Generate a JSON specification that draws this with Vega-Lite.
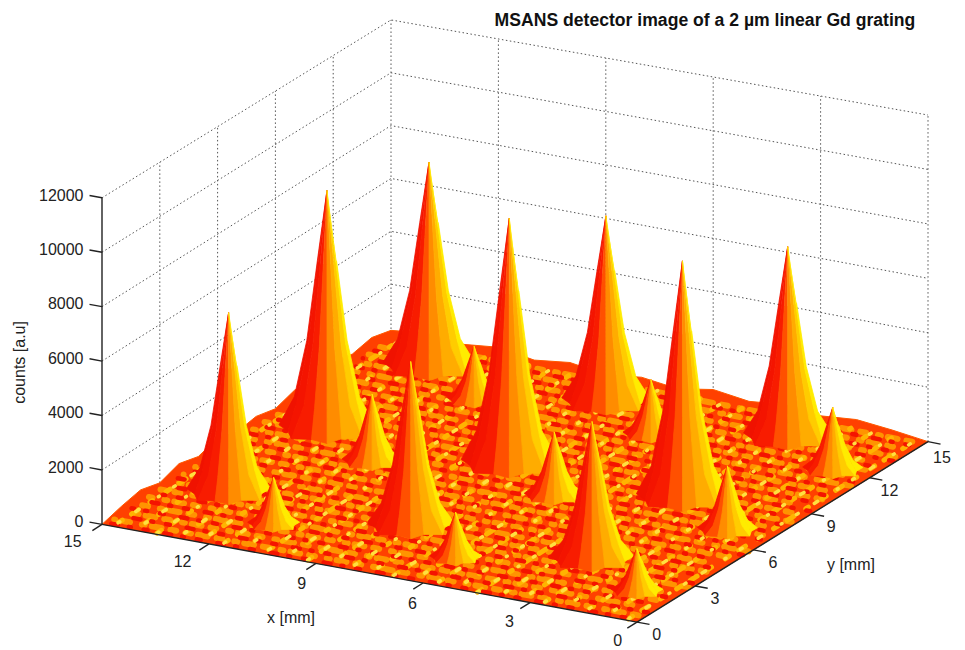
{"$schema":"https://vega.github.io/schema/vega-lite/v6.json","width":965,"height":650,"padding":0,"autosize":{"type":"fit","contains":"padding"},"background":"white","config":{"view":{"stroke":null},"font":"Liberation Sans"},
"datasets":{
"peaks":[{"id":"K","x":13.33,"y":13.87,"h":7550,"w":1.15,"o":0},{"id":"Ks","x":11.21,"y":12.28,"h":1900,"w":0.7,"o":1},{"id":"P","x":8.35,"y":13.8,"h":6800,"w":1.1,"o":0},{"id":"Q","x":13.45,"y":8.8,"h":8750,"w":1.2,"o":0},{"id":"Ps","x":6.23,"y":12.21,"h":1950,"w":0.7,"o":1},{"id":"R","x":3.27,"y":13.8,"h":6900,"w":1.1,"o":0},{"id":"Qs","x":11.33,"y":7.21,"h":2420,"w":0.75,"o":1},{"id":"C","x":8.35,"y":8.8,"h":8950,"w":1.2,"o":0},{"id":"Rs","x":1.15,"y":12.21,"h":2200,"w":0.75,"o":1},{"id":"L","x":13.45,"y":3.7,"h":6500,"w":1.05,"o":0},{"id":"Cs","x":6.23,"y":7.21,"h":2270,"w":0.75,"o":1},{"id":"M","x":3.45,"y":8.7,"h":8600,"w":1.15,"o":0},{"id":"Ls","x":11.33,"y":2.11,"h":1650,"w":0.65,"o":1},{"id":"N","x":8.35,"y":3.7,"h":5930,"w":1.08,"o":0},{"id":"Ms","x":1.33,"y":7.11,"h":2270,"w":0.75,"o":1},{"id":"Ns","x":6.23,"y":2.11,"h":1600,"w":0.65,"o":1},{"id":"F","x":3.27,"y":3.7,"h":4950,"w":1.05,"o":0},{"id":"Fs","x":1.15,"y":2.11,"h":1500,"w":0.65,"o":1}],
"shape":[
{"t":0,"b":0,"a":0,"r":0,"f":1},{"t":1,"b":0,"a":0,"r":0.2,"f":0.7},{"t":2,"b":0,"a":0,"r":0.42,"f":0.36},{"t":3,"b":0,"a":0,"r":0.68,"f":0.12},{"t":4,"b":0,"a":0,"r":1,"f":0},{"t":5,"b":0,"a":22.5,"r":0.88,"f":0},{"t":6,"b":0,"a":22.5,"r":0.68,"f":0.12},{"t":7,"b":0,"a":22.5,"r":0.42,"f":0.36},{"t":8,"b":0,"a":22.5,"r":0.2,"f":0.7},
{"t":9,"b":1,"a":0,"r":0,"f":1},{"t":10,"b":1,"a":22.5,"r":0.2,"f":0.7},{"t":11,"b":1,"a":22.5,"r":0.42,"f":0.36},{"t":12,"b":1,"a":22.5,"r":0.68,"f":0.12},{"t":13,"b":1,"a":22.5,"r":0.88,"f":0},{"t":14,"b":1,"a":45,"r":1.05,"f":0},{"t":15,"b":1,"a":45,"r":0.68,"f":0.12},{"t":16,"b":1,"a":45,"r":0.42,"f":0.36},{"t":17,"b":1,"a":45,"r":0.2,"f":0.7},
{"t":18,"b":2,"a":0,"r":0,"f":1},{"t":19,"b":2,"a":45,"r":0.2,"f":0.7},{"t":20,"b":2,"a":45,"r":0.42,"f":0.36},{"t":21,"b":2,"a":45,"r":0.68,"f":0.12},{"t":22,"b":2,"a":45,"r":1.05,"f":0},{"t":23,"b":2,"a":67.5,"r":0.85,"f":0},{"t":24,"b":2,"a":67.5,"r":0.68,"f":0.12},{"t":25,"b":2,"a":67.5,"r":0.42,"f":0.36},{"t":26,"b":2,"a":67.5,"r":0.2,"f":0.7},
{"t":27,"b":3,"a":0,"r":0,"f":1},{"t":28,"b":3,"a":67.5,"r":0.2,"f":0.7},{"t":29,"b":3,"a":67.5,"r":0.42,"f":0.36},{"t":30,"b":3,"a":67.5,"r":0.68,"f":0.12},{"t":31,"b":3,"a":67.5,"r":0.85,"f":0},{"t":32,"b":3,"a":90,"r":1,"f":0},{"t":33,"b":3,"a":90,"r":0.68,"f":0.12},{"t":34,"b":3,"a":90,"r":0.42,"f":0.36},{"t":35,"b":3,"a":90,"r":0.2,"f":0.7},
{"t":36,"b":4,"a":0,"r":0,"f":1},{"t":37,"b":4,"a":90,"r":0.2,"f":0.7},{"t":38,"b":4,"a":90,"r":0.42,"f":0.36},{"t":39,"b":4,"a":90,"r":0.68,"f":0.12},{"t":40,"b":4,"a":90,"r":1,"f":0},{"t":41,"b":4,"a":112.5,"r":0.8,"f":0},{"t":42,"b":4,"a":112.5,"r":0.68,"f":0.12},{"t":43,"b":4,"a":112.5,"r":0.42,"f":0.36},{"t":44,"b":4,"a":112.5,"r":0.2,"f":0.7},
{"t":45,"b":5,"a":0,"r":0,"f":1},{"t":46,"b":5,"a":112.5,"r":0.2,"f":0.7},{"t":47,"b":5,"a":112.5,"r":0.42,"f":0.36},{"t":48,"b":5,"a":112.5,"r":0.68,"f":0.12},{"t":49,"b":5,"a":112.5,"r":0.8,"f":0},{"t":50,"b":5,"a":135,"r":1.05,"f":0},{"t":51,"b":5,"a":135,"r":0.68,"f":0.12},{"t":52,"b":5,"a":135,"r":0.42,"f":0.36},{"t":53,"b":5,"a":135,"r":0.2,"f":0.7},
{"t":54,"b":6,"a":0,"r":0,"f":1},{"t":55,"b":6,"a":135,"r":0.2,"f":0.7},{"t":56,"b":6,"a":135,"r":0.42,"f":0.36},{"t":57,"b":6,"a":135,"r":0.68,"f":0.12},{"t":58,"b":6,"a":135,"r":1.05,"f":0},{"t":59,"b":6,"a":157.5,"r":0.85,"f":0},{"t":60,"b":6,"a":157.5,"r":0.68,"f":0.12},{"t":61,"b":6,"a":157.5,"r":0.42,"f":0.36},{"t":62,"b":6,"a":157.5,"r":0.2,"f":0.7},
{"t":63,"b":7,"a":0,"r":0,"f":1},{"t":64,"b":7,"a":157.5,"r":0.2,"f":0.7},{"t":65,"b":7,"a":157.5,"r":0.42,"f":0.36},{"t":66,"b":7,"a":157.5,"r":0.68,"f":0.12},{"t":67,"b":7,"a":157.5,"r":0.85,"f":0},{"t":68,"b":7,"a":180,"r":1,"f":0},{"t":69,"b":7,"a":180,"r":0.68,"f":0.12},{"t":70,"b":7,"a":180,"r":0.42,"f":0.36},{"t":71,"b":7,"a":180,"r":0.2,"f":0.7}]
},
"data":{"values":[
{"k":"g","n":"z2","i":0,"x":15,"y":0,"z":2000},{"k":"g","n":"z2","i":1,"x":15,"y":15,"z":2000},{"k":"g","n":"z2","i":2,"x":0,"y":15,"z":2000},
{"k":"g","n":"z4","i":0,"x":15,"y":0,"z":4000},{"k":"g","n":"z4","i":1,"x":15,"y":15,"z":4000},{"k":"g","n":"z4","i":2,"x":0,"y":15,"z":4000},
{"k":"g","n":"z6","i":0,"x":15,"y":0,"z":6000},{"k":"g","n":"z6","i":1,"x":15,"y":15,"z":6000},{"k":"g","n":"z6","i":2,"x":0,"y":15,"z":6000},
{"k":"g","n":"z8","i":0,"x":15,"y":0,"z":8000},{"k":"g","n":"z8","i":1,"x":15,"y":15,"z":8000},{"k":"g","n":"z8","i":2,"x":0,"y":15,"z":8000},
{"k":"g","n":"z10","i":0,"x":15,"y":0,"z":10000},{"k":"g","n":"z10","i":1,"x":15,"y":15,"z":10000},{"k":"g","n":"z10","i":2,"x":0,"y":15,"z":10000},
{"k":"g","n":"z12","i":0,"x":15,"y":0,"z":12000},{"k":"g","n":"z12","i":1,"x":15,"y":15,"z":12000},{"k":"g","n":"z12","i":2,"x":0,"y":15,"z":12000},
{"k":"g","n":"y3","i":0,"x":15,"y":3,"z":0},{"k":"g","n":"y3","i":1,"x":15,"y":3,"z":12000},{"k":"g","n":"y6","i":0,"x":15,"y":6,"z":0},{"k":"g","n":"y6","i":1,"x":15,"y":6,"z":12000},{"k":"g","n":"y9","i":0,"x":15,"y":9,"z":0},{"k":"g","n":"y9","i":1,"x":15,"y":9,"z":12000},{"k":"g","n":"y12","i":0,"x":15,"y":12,"z":0},{"k":"g","n":"y12","i":1,"x":15,"y":12,"z":12000},{"k":"g","n":"y15","i":0,"x":15,"y":15,"z":0},{"k":"g","n":"y15","i":1,"x":15,"y":15,"z":12000},
{"k":"g","n":"x12","i":0,"x":12,"y":15,"z":0},{"k":"g","n":"x12","i":1,"x":12,"y":15,"z":12000},{"k":"g","n":"x9","i":0,"x":9,"y":15,"z":0},{"k":"g","n":"x9","i":1,"x":9,"y":15,"z":12000},{"k":"g","n":"x6","i":0,"x":6,"y":15,"z":0},{"k":"g","n":"x6","i":1,"x":6,"y":15,"z":12000},{"k":"g","n":"x3","i":0,"x":3,"y":15,"z":0},{"k":"g","n":"x3","i":1,"x":3,"y":15,"z":12000},{"k":"g","n":"x0","i":0,"x":0,"y":15,"z":0},{"k":"g","n":"x0","i":1,"x":0,"y":15,"z":12000},
{"k":"f","i":0,"x":15,"y":0,"z":0},{"k":"f","i":1,"x":15,"y":1,"z":200},{"k":"f","i":2,"x":15,"y":2,"z":350},{"k":"f","i":3,"x":15,"y":3,"z":150},{"k":"f","i":4,"x":15,"y":4,"z":400},{"k":"f","i":5,"x":15,"y":5,"z":200},{"k":"f","i":6,"x":15,"y":6,"z":420},{"k":"f","i":7,"x":15,"y":7,"z":180},{"k":"f","i":8,"x":15,"y":8,"z":300},{"k":"f","i":9,"x":15,"y":9,"z":120},{"k":"f","i":10,"x":15,"y":10,"z":350},{"k":"f","i":11,"x":15,"y":11,"z":200},{"k":"f","i":12,"x":15,"y":12,"z":450},{"k":"f","i":13,"x":15,"y":13,"z":300},{"k":"f","i":14,"x":15,"y":14,"z":450},{"k":"f","i":15,"x":15,"y":15,"z":250},
{"k":"f","i":16,"x":14,"y":15,"z":400},{"k":"f","i":17,"x":13,"y":15,"z":250},{"k":"f","i":18,"x":12,"y":15,"z":400},{"k":"f","i":19,"x":11,"y":15,"z":180},{"k":"f","i":20,"x":10,"y":15,"z":350},{"k":"f","i":21,"x":9,"y":15,"z":150},{"k":"f","i":22,"x":8,"y":15,"z":320},{"k":"f","i":23,"x":7,"y":15,"z":150},{"k":"f","i":24,"x":6,"y":15,"z":380},{"k":"f","i":25,"x":5,"y":15,"z":200},{"k":"f","i":26,"x":4,"y":15,"z":340},{"k":"f","i":27,"x":3,"y":15,"z":180},{"k":"f","i":28,"x":2,"y":15,"z":300},{"k":"f","i":29,"x":1,"y":15,"z":170},{"k":"f","i":30,"x":0,"y":15,"z":0},{"k":"f","i":31,"x":0,"y":0,"z":0},
{"k":"A","n":1,"i":0,"x":0.3,"y":0.1},{"k":"A","n":1,"i":1,"x":0.3,"y":14.9},{"k":"A","n":2,"i":0,"x":0.9,"y":0.5},{"k":"A","n":2,"i":1,"x":0.9,"y":14.9},{"k":"A","n":3,"i":0,"x":1.5,"y":0.3},{"k":"A","n":3,"i":1,"x":1.5,"y":14.9},{"k":"A","n":4,"i":0,"x":2.1,"y":0.7},{"k":"A","n":4,"i":1,"x":2.1,"y":14.9},{"k":"A","n":5,"i":0,"x":2.7,"y":0.2},{"k":"A","n":5,"i":1,"x":2.7,"y":14.9},{"k":"A","n":6,"i":0,"x":3.3,"y":0.6},{"k":"A","n":6,"i":1,"x":3.3,"y":14.9},{"k":"A","n":7,"i":0,"x":3.9,"y":0.4},{"k":"A","n":7,"i":1,"x":3.9,"y":14.9},{"k":"A","n":8,"i":0,"x":4.5,"y":0.05},{"k":"A","n":8,"i":1,"x":4.5,"y":14.9},{"k":"A","n":9,"i":0,"x":5.1,"y":0.55},{"k":"A","n":9,"i":1,"x":5.1,"y":14.9},{"k":"A","n":10,"i":0,"x":5.7,"y":0.25},{"k":"A","n":10,"i":1,"x":5.7,"y":14.9},{"k":"A","n":11,"i":0,"x":6.3,"y":0.65},{"k":"A","n":11,"i":1,"x":6.3,"y":14.9},{"k":"A","n":12,"i":0,"x":6.9,"y":0.15},{"k":"A","n":12,"i":1,"x":6.9,"y":14.9},{"k":"A","n":13,"i":0,"x":7.5,"y":0.45},{"k":"A","n":13,"i":1,"x":7.5,"y":14.9},{"k":"A","n":14,"i":0,"x":8.1,"y":0.35},{"k":"A","n":14,"i":1,"x":8.1,"y":14.9},{"k":"A","n":15,"i":0,"x":8.7,"y":0.75},{"k":"A","n":15,"i":1,"x":8.7,"y":14.9},{"k":"A","n":16,"i":0,"x":9.3,"y":0.12},{"k":"A","n":16,"i":1,"x":9.3,"y":14.9},{"k":"A","n":17,"i":0,"x":9.9,"y":0.52},{"k":"A","n":17,"i":1,"x":9.9,"y":14.9},{"k":"A","n":18,"i":0,"x":10.5,"y":0.32},{"k":"A","n":18,"i":1,"x":10.5,"y":14.9},{"k":"A","n":19,"i":0,"x":11.1,"y":0.72},{"k":"A","n":19,"i":1,"x":11.1,"y":14.9},{"k":"A","n":20,"i":0,"x":11.7,"y":0.22},{"k":"A","n":20,"i":1,"x":11.7,"y":14.9},{"k":"A","n":21,"i":0,"x":12.3,"y":0.62},{"k":"A","n":21,"i":1,"x":12.3,"y":14.9},{"k":"A","n":22,"i":0,"x":12.9,"y":0.42},{"k":"A","n":22,"i":1,"x":12.9,"y":14.9},{"k":"A","n":23,"i":0,"x":13.5,"y":0.08},{"k":"A","n":23,"i":1,"x":13.5,"y":14.9},{"k":"A","n":24,"i":0,"x":14.1,"y":0.58},{"k":"A","n":24,"i":1,"x":14.1,"y":14.9},{"k":"A","n":25,"i":0,"x":14.7,"y":0.28},{"k":"A","n":25,"i":1,"x":14.7,"y":14.9},
{"k":"B","n":1,"i":0,"x":0.4,"y":0.15},{"k":"B","n":1,"i":1,"x":14.9,"y":0.15},{"k":"B","n":2,"i":0,"x":0.1,"y":0.75},{"k":"B","n":2,"i":1,"x":14.9,"y":0.75},{"k":"B","n":3,"i":0,"x":0.6,"y":1.35},{"k":"B","n":3,"i":1,"x":14.9,"y":1.35},{"k":"B","n":4,"i":0,"x":0.25,"y":1.95},{"k":"B","n":4,"i":1,"x":14.9,"y":1.95},{"k":"B","n":5,"i":0,"x":0.75,"y":2.55},{"k":"B","n":5,"i":1,"x":14.9,"y":2.55},{"k":"B","n":6,"i":0,"x":0.15,"y":3.15},{"k":"B","n":6,"i":1,"x":14.9,"y":3.15},{"k":"B","n":7,"i":0,"x":0.5,"y":3.75},{"k":"B","n":7,"i":1,"x":14.9,"y":3.75},{"k":"B","n":8,"i":0,"x":0.35,"y":4.35},{"k":"B","n":8,"i":1,"x":14.9,"y":4.35},{"k":"B","n":9,"i":0,"x":0.85,"y":4.95},{"k":"B","n":9,"i":1,"x":14.9,"y":4.95},{"k":"B","n":10,"i":0,"x":0.05,"y":5.55},{"k":"B","n":10,"i":1,"x":14.9,"y":5.55},{"k":"B","n":11,"i":0,"x":0.65,"y":6.15},{"k":"B","n":11,"i":1,"x":14.9,"y":6.15},{"k":"B","n":12,"i":0,"x":0.2,"y":6.75},{"k":"B","n":12,"i":1,"x":14.9,"y":6.75},{"k":"B","n":13,"i":0,"x":0.45,"y":7.35},{"k":"B","n":13,"i":1,"x":14.9,"y":7.35},{"k":"B","n":14,"i":0,"x":0.3,"y":7.95},{"k":"B","n":14,"i":1,"x":14.9,"y":7.95},{"k":"B","n":15,"i":0,"x":0.8,"y":8.55},{"k":"B","n":15,"i":1,"x":14.9,"y":8.55},{"k":"B","n":16,"i":0,"x":0.12,"y":9.15},{"k":"B","n":16,"i":1,"x":14.9,"y":9.15},{"k":"B","n":17,"i":0,"x":0.55,"y":9.75},{"k":"B","n":17,"i":1,"x":14.9,"y":9.75},{"k":"B","n":18,"i":0,"x":0.38,"y":10.35},{"k":"B","n":18,"i":1,"x":14.9,"y":10.35},{"k":"B","n":19,"i":0,"x":0.7,"y":10.95},{"k":"B","n":19,"i":1,"x":14.9,"y":10.95},{"k":"B","n":20,"i":0,"x":0.22,"y":11.55},{"k":"B","n":20,"i":1,"x":14.9,"y":11.55},{"k":"B","n":21,"i":0,"x":0.62,"y":12.15},{"k":"B","n":21,"i":1,"x":14.9,"y":12.15},{"k":"B","n":22,"i":0,"x":0.42,"y":12.75},{"k":"B","n":22,"i":1,"x":14.9,"y":12.75},{"k":"B","n":23,"i":0,"x":0.08,"y":13.35},{"k":"B","n":23,"i":1,"x":14.9,"y":13.35},{"k":"B","n":24,"i":0,"x":0.58,"y":13.95},{"k":"B","n":24,"i":1,"x":14.9,"y":13.95},{"k":"B","n":25,"i":0,"x":0.28,"y":14.55},{"k":"B","n":25,"i":1,"x":14.9,"y":14.55},
{"k":"D","n":1,"i":0,"x":0.2,"y":0.45},{"k":"D","n":1,"i":1,"x":14.9,"y":0.45},{"k":"D","n":2,"i":0,"x":0.7,"y":1.05},{"k":"D","n":2,"i":1,"x":14.9,"y":1.05},{"k":"D","n":3,"i":0,"x":0.35,"y":1.65},{"k":"D","n":3,"i":1,"x":14.9,"y":1.65},{"k":"D","n":4,"i":0,"x":0.55,"y":2.25},{"k":"D","n":4,"i":1,"x":14.9,"y":2.25},{"k":"D","n":5,"i":0,"x":0.1,"y":2.85},{"k":"D","n":5,"i":1,"x":14.9,"y":2.85},{"k":"D","n":6,"i":0,"x":0.8,"y":3.45},{"k":"D","n":6,"i":1,"x":14.9,"y":3.45},{"k":"D","n":7,"i":0,"x":0.25,"y":4.05},{"k":"D","n":7,"i":1,"x":14.9,"y":4.05},{"k":"D","n":8,"i":0,"x":0.65,"y":4.65},{"k":"D","n":8,"i":1,"x":14.9,"y":4.65},{"k":"D","n":9,"i":0,"x":0.4,"y":5.25},{"k":"D","n":9,"i":1,"x":14.9,"y":5.25},{"k":"D","n":10,"i":0,"x":0.05,"y":5.85},{"k":"D","n":10,"i":1,"x":14.9,"y":5.85},{"k":"D","n":11,"i":0,"x":0.75,"y":6.45},{"k":"D","n":11,"i":1,"x":14.9,"y":6.45},{"k":"D","n":12,"i":0,"x":0.3,"y":7.05},{"k":"D","n":12,"i":1,"x":14.9,"y":7.05},{"k":"D","n":13,"i":0,"x":0.6,"y":7.65},{"k":"D","n":13,"i":1,"x":14.9,"y":7.65},{"k":"D","n":14,"i":0,"x":0.15,"y":8.25},{"k":"D","n":14,"i":1,"x":14.9,"y":8.25},{"k":"D","n":15,"i":0,"x":0.48,"y":8.85},{"k":"D","n":15,"i":1,"x":14.9,"y":8.85},{"k":"D","n":16,"i":0,"x":0.85,"y":9.45},{"k":"D","n":16,"i":1,"x":14.9,"y":9.45},{"k":"D","n":17,"i":0,"x":0.27,"y":10.05},{"k":"D","n":17,"i":1,"x":14.9,"y":10.05},{"k":"D","n":18,"i":0,"x":0.52,"y":10.65},{"k":"D","n":18,"i":1,"x":14.9,"y":10.65},{"k":"D","n":19,"i":0,"x":0.12,"y":11.25},{"k":"D","n":19,"i":1,"x":14.9,"y":11.25},{"k":"D","n":20,"i":0,"x":0.68,"y":11.85},{"k":"D","n":20,"i":1,"x":14.9,"y":11.85},{"k":"D","n":21,"i":0,"x":0.37,"y":12.45},{"k":"D","n":21,"i":1,"x":14.9,"y":12.45},{"k":"D","n":22,"i":0,"x":0.78,"y":13.05},{"k":"D","n":22,"i":1,"x":14.9,"y":13.05},{"k":"D","n":23,"i":0,"x":0.18,"y":13.65},{"k":"D","n":23,"i":1,"x":14.9,"y":13.65},{"k":"D","n":24,"i":0,"x":0.57,"y":14.25},{"k":"D","n":24,"i":1,"x":14.9,"y":14.25},{"k":"D","n":25,"i":0,"x":0.33,"y":14.8},{"k":"D","n":25,"i":1,"x":14.9,"y":14.8},
{"k":"a","n":"xa","i":0,"x":15,"y":0,"z":0},{"k":"a","n":"xa","i":1,"x":0,"y":0,"z":0},{"k":"a","n":"ya","i":0,"x":0,"y":0,"z":0},{"k":"a","n":"ya","i":1,"x":0,"y":15,"z":0},{"k":"a","n":"za","i":0,"x":15,"y":0,"z":0},{"k":"a","n":"za","i":1,"x":15,"y":0,"z":12000},
{"k":"a","n":"tx0","i":0,"x":0,"y":0,"z":0},{"k":"a","n":"tx0","i":1,"x":0,"y":-0.5,"z":0},{"k":"a","n":"tx3","i":0,"x":3,"y":0,"z":0},{"k":"a","n":"tx3","i":1,"x":3,"y":-0.5,"z":0},{"k":"a","n":"tx6","i":0,"x":6,"y":0,"z":0},{"k":"a","n":"tx6","i":1,"x":6,"y":-0.5,"z":0},{"k":"a","n":"tx9","i":0,"x":9,"y":0,"z":0},{"k":"a","n":"tx9","i":1,"x":9,"y":-0.5,"z":0},{"k":"a","n":"tx12","i":0,"x":12,"y":0,"z":0},{"k":"a","n":"tx12","i":1,"x":12,"y":-0.5,"z":0},{"k":"a","n":"tx15","i":0,"x":15,"y":0,"z":0},{"k":"a","n":"tx15","i":1,"x":15,"y":-0.5,"z":0},
{"k":"a","n":"ty0","i":0,"x":0,"y":0,"z":0},{"k":"a","n":"ty0","i":1,"x":-0.35,"y":0,"z":0},{"k":"a","n":"ty3","i":0,"x":0,"y":3,"z":0},{"k":"a","n":"ty3","i":1,"x":-0.35,"y":3,"z":0},{"k":"a","n":"ty6","i":0,"x":0,"y":6,"z":0},{"k":"a","n":"ty6","i":1,"x":-0.35,"y":6,"z":0},{"k":"a","n":"ty9","i":0,"x":0,"y":9,"z":0},{"k":"a","n":"ty9","i":1,"x":-0.35,"y":9,"z":0},{"k":"a","n":"ty12","i":0,"x":0,"y":12,"z":0},{"k":"a","n":"ty12","i":1,"x":-0.35,"y":12,"z":0},{"k":"a","n":"ty15","i":0,"x":0,"y":15,"z":0},{"k":"a","n":"ty15","i":1,"x":-0.35,"y":15,"z":0},
{"k":"a","n":"tz0","i":0,"x":15,"y":0,"z":0},{"k":"a","n":"tz0","i":1,"x":15.35,"y":0,"z":0},{"k":"a","n":"tz2","i":0,"x":15,"y":0,"z":2000},{"k":"a","n":"tz2","i":1,"x":15.35,"y":0,"z":2000},{"k":"a","n":"tz4","i":0,"x":15,"y":0,"z":4000},{"k":"a","n":"tz4","i":1,"x":15.35,"y":0,"z":4000},{"k":"a","n":"tz6","i":0,"x":15,"y":0,"z":6000},{"k":"a","n":"tz6","i":1,"x":15.35,"y":0,"z":6000},{"k":"a","n":"tz8","i":0,"x":15,"y":0,"z":8000},{"k":"a","n":"tz8","i":1,"x":15.35,"y":0,"z":8000},{"k":"a","n":"tz10","i":0,"x":15,"y":0,"z":10000},{"k":"a","n":"tz10","i":1,"x":15.35,"y":0,"z":10000},{"k":"a","n":"tz12","i":0,"x":15,"y":0,"z":12000},{"k":"a","n":"tz12","i":1,"x":15.35,"y":0,"z":12000},
{"k":"zl","x":15.35,"y":0,"z":0,"s":"0"},{"k":"zl","x":15.35,"y":0,"z":2000,"s":"2000"},{"k":"zl","x":15.35,"y":0,"z":4000,"s":"4000"},{"k":"zl","x":15.35,"y":0,"z":6000,"s":"6000"},{"k":"zl","x":15.35,"y":0,"z":8000,"s":"8000"},{"k":"zl","x":15.35,"y":0,"z":10000,"s":"10000"},{"k":"zl","x":15.35,"y":0,"z":12000,"s":"12000"},
{"k":"l","x":15.28,"y":-1,"z":-260,"s":"15"},{"k":"l","x":12.2,"y":-1,"z":-260,"s":"12"},{"k":"l","x":8.86,"y":-1,"z":-260,"s":"9"},{"k":"l","x":5.75,"y":-1,"z":-260,"s":"6"},{"k":"l","x":3.03,"y":-1,"z":-260,"s":"3"},{"k":"l","x":0,"y":-1,"z":-260,"s":"0"},
{"k":"l","x":-0.55,"y":0,"z":-340,"s":"0"},{"k":"l","x":-0.55,"y":3,"z":-340,"s":"3"},{"k":"l","x":-0.55,"y":6,"z":-340,"s":"6"},{"k":"l","x":-0.55,"y":9,"z":-340,"s":"9"},{"k":"l","x":-0.55,"y":12,"z":-340,"s":"12"},{"k":"l","x":-0.55,"y":14.7,"z":-340,"s":"15"},
{"k":"l","x":9.7,"y":0,"z":-2160,"s":"x [mm]"},{"k":"l","x":0,"y":11.03,"z":-2780,"s":"y [mm]"},
{"k":"r","x":17.3,"y":0,"z":5400,"s":"counts [a.u]"},
{"k":"t","x":6.23,"y":15,"z":14015,"s":"MSANS detector image of a 2 µm linear Gd grating"}
]},
"transform":[{"calculate":"datum.x/15","as":"u"},{"calculate":"datum.y/15","as":"v"},{"calculate":"637-535*datum.u+291*datum.v-2*datum.u*datum.v","as":"px"},{"calculate":"624-98*datum.u-181*datum.v-7*datum.u*datum.v-(0.0273-0.0008*datum.u*datum.v)*(datum.z||0)","as":"py"}],
"encoding":{"x":{"field":"px","type":"quantitative","scale":{"domain":[0,965],"nice":false},"axis":null},"y":{"field":"py","type":"quantitative","scale":{"domain":[650,0],"nice":false},"axis":null}},
"layer":[
{"transform":[{"filter":"datum.k==='g'"}],"mark":{"type":"line","stroke":"#555555","strokeWidth":1,"strokeDash":[1.5,2.5]},"encoding":{"detail":{"field":"n"},"order":{"field":"i"}}},
{"transform":[{"filter":"datum.k==='f'"}],"mark":{"type":"line","fill":"#ff4000","stroke":"#ff5a00","strokeWidth":1},"encoding":{"order":{"field":"i"}}},
{"transform":[{"filter":"datum.k==='D'"}],"mark":{"type":"line","stroke":"#ff9400","strokeWidth":6,"strokeCap":"round","strokeDash":[6,9,10,7,3,12]},"encoding":{"detail":{"field":"n"},"order":{"field":"i"}}},
{"transform":[{"filter":"datum.k==='A'"}],"mark":{"type":"line","stroke":"#ffb400","strokeWidth":5,"strokeCap":"round","strokeDash":[5,11,8,14,3,16]},"encoding":{"detail":{"field":"n"},"order":{"field":"i"}}},
{"transform":[{"filter":"datum.k==='B'"}],"mark":{"type":"line","stroke":"#f41400","strokeWidth":4.5,"strokeCap":"round","strokeDash":[4,13,2,11,7,17]},"encoding":{"detail":{"field":"n"},"order":{"field":"i"}}},
{"transform":[{"filter":"datum.k==='A'"}],"mark":{"type":"line","stroke":"#ffe040","strokeWidth":3.5,"strokeCap":"round","strokeDash":[2,19,4,23,1,17]},"encoding":{"detail":{"field":"n"},"order":{"field":"i"}}},
{"data":{"name":"peaks"},"transform":[
{"calculate":"[0,1,2,3,4,5,6,7,8,9,10,11,12,13,14,15,16,17,18,19,20,21,22,23,24,25,26,27,28,29,30,31,32,33,34,35,36,37,38,39,40,41,42,43,44,45,46,47,48,49,50,51,52,53,54,55,56,57,58,59,60,61,62,63,64,65,66,67,68,69,70,71]","as":"t"},{"flatten":["t"]},
{"lookup":"t","from":{"data":{"name":"shape"},"key":"t","fields":["b","a","r","f"]}},
{"calculate":"datum.id+'-'+datum.b","as":"g"},
{"calculate":"min(7,datum.b+datum.o)","as":"tone"},
{"calculate":"datum.a*PI/180","as":"ang"},
{"calculate":"(datum.x+datum.w*datum.r*(0.868*cos(datum.ang)-0.521*sin(datum.ang)))/15","as":"u"},
{"calculate":"(datum.y+datum.w*datum.r*(-0.466*cos(datum.ang)-0.958*sin(datum.ang)))/15","as":"v"},
{"calculate":"637-535*datum.u+291*datum.v-2*datum.u*datum.v","as":"px"},
{"calculate":"624-98*datum.u-181*datum.v-7*datum.u*datum.v-(0.0273-0.0008*datum.u*datum.v)*datum.h*datum.f","as":"py"}],
"mark":{"type":"line","strokeWidth":0.8,"strokeJoin":"round"},
"encoding":{"detail":{"field":"g"},"order":{"field":"t"},
"fill":{"field":"tone","type":"nominal","legend":null,"scale":{"domain":[0,1,2,3,4,5,6,7],"range":["#f01200","#f41400","#f81c00","#ff5000","#ff8c00","#ffac00","#ffcc00","#ffec00"]}},
"stroke":{"field":"tone","type":"nominal","legend":null,"scale":{"domain":[0,1,2,3,4,5,6,7],"range":["#f01200","#f41400","#f81c00","#ff5000","#ff8c00","#ffac00","#ffcc00","#ffec00"]}}}},
{"transform":[{"filter":"datum.k==='a'"}],"mark":{"type":"line","stroke":"#222222","strokeWidth":1.4},"encoding":{"detail":{"field":"n"},"order":{"field":"i"}}},
{"transform":[{"filter":"datum.k==='zl'"}],"mark":{"type":"text","align":"right","baseline":"middle","dx":-6,"fontSize":16,"fill":"#222222"},"encoding":{"text":{"field":"s"}}},
{"transform":[{"filter":"datum.k==='l'"}],"mark":{"type":"text","align":"center","baseline":"middle","fontSize":16,"fill":"#222222"},"encoding":{"text":{"field":"s"}}},
{"transform":[{"filter":"datum.k==='r'"}],"mark":{"type":"text","align":"center","baseline":"middle","angle":270,"fontSize":16,"fill":"#222222"},"encoding":{"text":{"field":"s"}}},
{"transform":[{"filter":"datum.k==='t'"}],"mark":{"type":"text","align":"center","baseline":"middle","fontSize":17.6,"fontWeight":"bold","fill":"#111111"},"encoding":{"text":{"field":"s"}}}
]}
